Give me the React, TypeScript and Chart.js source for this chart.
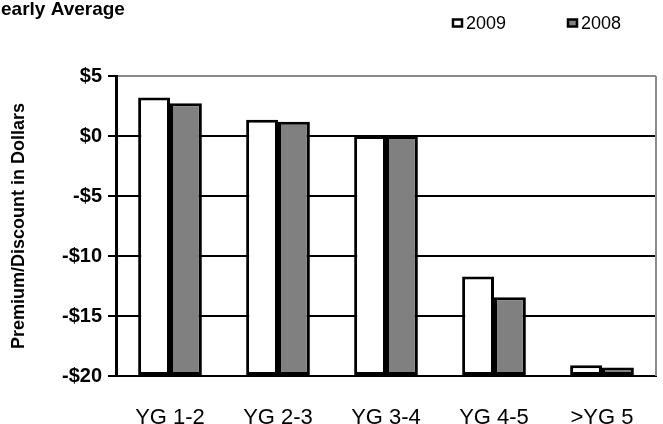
import React, { useEffect, useRef } from "react";
import { Chart, registerables } from "chart.js";

Chart.register(...registerables);

const categories = ["YG 1-2", "YG 2-3", "YG 3-4", "YG 4-5", ">YG 5"];
const values2009 = [3.2, 1.35, 0, -11.7, -19.1];
const values2008 = [2.73, 1.18, 0, -13.43, -19.3];
const seriesNames = ["2009", "2008"];
const yTickValues = [5, 0, -5, -10, -15, -20];
const chartTitle = "early Average";
const yAxisTitle = "Premium/Discount in Dollars";

const FONT = "Arial, 'Liberation Sans', sans-serif";

const decorPlugin = {
  id: "decor",
  afterDraw(chart: any) {
    const ctx = chart.ctx;
    const area = chart.chartArea;
    ctx.save();
    // right gray border
    ctx.strokeStyle = "#8c8c8c";
    ctx.lineWidth = 2;
    ctx.beginPath();
    ctx.moveTo(area.right, area.top);
    ctx.lineTo(area.right, area.bottom);
    ctx.stroke();
    // title
    ctx.fillStyle = "#000";
    ctx.font = `bold 19px ${FONT}`;
    ctx.textBaseline = "alphabetic";
    ctx.textAlign = "left";
    ctx.fillText(chartTitle, 1, 15);
    // legend
    const items = [
      { x: 453, fill: "#ffffff", label: seriesNames[0] },
      { x: 568, fill: "#808080", label: seriesNames[1] },
    ];
    ctx.font = `18px ${FONT}`;
    for (const it of items) {
      ctx.fillStyle = it.fill;
      ctx.fillRect(it.x, 19.5, 9, 7);
      ctx.strokeStyle = "#000";
      ctx.lineWidth = 2.5;
      ctx.strokeRect(it.x, 19.5, 9, 7);
      ctx.fillStyle = "#000";
      ctx.fillText(it.label, it.x + 13, 28.5);
    }
    ctx.restore();
  },
};

export default function App() {
  const ref = useRef<HTMLCanvasElement | null>(null);
  useEffect(() => {
    document.body.style.margin = "0";
    const canvas = ref.current!;
    const chart = new Chart(canvas, {
      type: "bar",
      data: {
        labels: categories,
        datasets: [
          {
            label: seriesNames[0],
            data: values2009,
            base: -20,
            backgroundColor: "#ffffff",
            borderColor: "#000000",
            borderWidth: 3,
            borderSkipped: false,
          } as any,
          {
            label: seriesNames[1],
            data: values2008,
            base: -20,
            backgroundColor: "#808080",
            borderColor: "#000000",
            borderWidth: 3,
            borderSkipped: false,
          } as any,
        ],
      },
      options: {
        responsive: false,
        animation: false,
        layout: { padding: { top: 76, right: 7, left: 0, bottom: 0 } },
        plugins: {
          legend: { display: false },
          title: { display: false },
          tooltip: { enabled: false },
        },
        datasets: {
          bar: { categoryPercentage: 0.59, barPercentage: 1.0 },
        } as any,
        scales: {
          x: {
            grid: { display: false },
            border: { display: true, color: "#000", width: 2 },
            ticks: {
              color: "#000",
              font: { family: FONT, size: 22 },
              padding: 21,
              maxRotation: 0,
            },
            afterFit(scale: any) {
              scale.height = 48;
            },
          },
          y: {
            min: -20,
            max: 5,
            afterBuildTicks(scale: any) {
              scale.ticks = yTickValues.map((v) => ({ value: v }));
            },
            afterFit(scale: any) {
              scale.width = 116;
            },
            grid: {
              color: (c: any) => (c.tick && c.tick.value === 5 ? "#8c8c8c" : "#000"),
              lineWidth: 2,
              tickLength: 8,
              tickColor: "#000",
            },
            border: { display: true, color: "#000", width: 3 },
            ticks: {
              color: "#000",
              font: { family: FONT, size: 20, weight: "bold" },
              padding: 6,
              callback: (v: any) => (v < 0 ? `-$${Math.abs(v)}` : `$${v}`),
            },
            title: {
              display: true,
              text: yAxisTitle,
              color: "#000",
              font: { family: FONT, size: 18, weight: "bold" },
              padding: { top: 8, bottom: 0 },
            },
          },
        },
      },
      plugins: [decorPlugin],
    });
    return () => chart.destroy();
  }, []);
  return <canvas ref={ref} width={663} height={424} style={{ display: "block" }} />;
}
